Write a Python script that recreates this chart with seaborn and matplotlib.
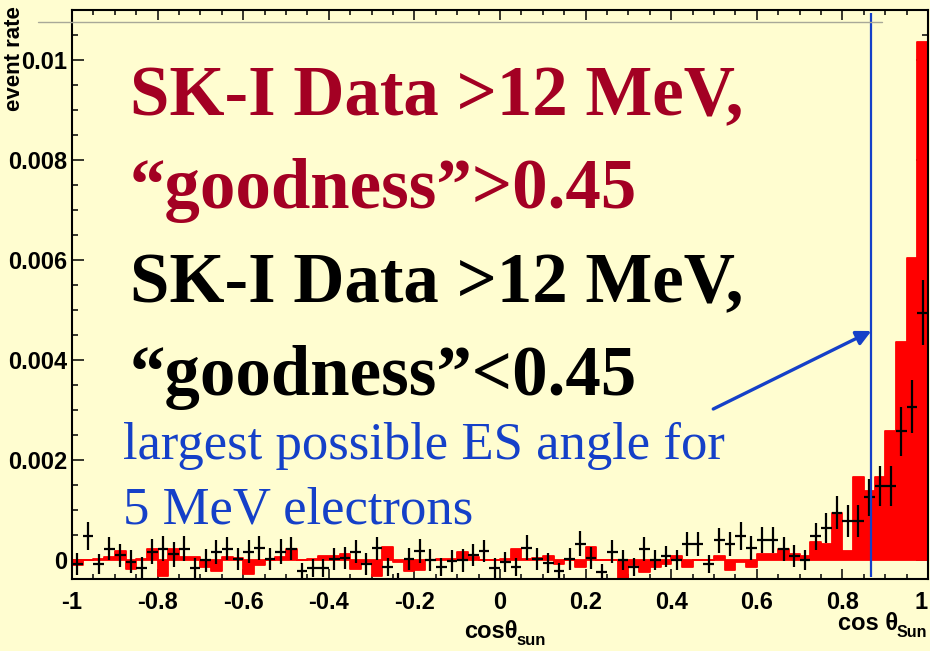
import numpy as np
import pandas as pd
import matplotlib
matplotlib.use("Agg")
import matplotlib.pyplot as plt
import seaborn as sns
from matplotlib.lines import Line2D
from matplotlib.ticker import MultipleLocator

# ---------------- data (80 bins of width 0.025 in cos theta_sun) ----------------
x_min, x_max, n_bins = -1.0, 1.0, 80
red_rate = [
    -0.0001, 0.0, 0.00002, 0.00007, 0.00018, -0.00018, 0.00003, 0.00023,
    -0.00032, 0.00023, 0.00007, 0.00007, -0.00013, -0.00022, 0.00007, 0.00005,
    -0.00027, -0.0001, 0.0, 0.00007, 0.00023, 0.0, 0.00003, 0.00008,
    0.00008, 0.00013, -0.00017, -0.00003, -0.00032, 0.00027, -0.00003, -0.00022,
    -0.0002, 0.0, 0.00003, 0.00003, 0.00017, 0.00007, 0.0, 0.0,
    0.00003, 0.00023, 0.00003, 0.00005, 0.00008, -0.00007, 0.0, -0.00013,
    0.00027, 0.0, 0.0, -0.00037, -0.0001, -0.00023, -0.00013, -0.00008,
    0.00008, -0.00013, 0.0, 0.0, 0.00008, -0.00019, -0.00003, -0.00013,
    0.00013, 0.00013, 0.00023, 0.00012, 0.00008, 0.00037, 0.00032, 0.00095,
    0.00018, 0.00167, 0.00139, 0.00167, 0.00258, 0.00437, 0.00605, 0.01037,
]
black_rate = [
    -0.00007, 0.00049, -0.00007, 0.00023, 0.0001, -0.00003, -0.00015, 0.00017,
    0.00023, 0.00012, 0.00023, -0.00015, 0.0, 0.00017, 0.00023, 0.00002,
    0.00017, 0.00025, 0.00002, 0.00017, 0.00023, -0.00022, -0.00015, -0.00015,
    0.00003, 0.00005, 0.00017, -0.00008, 0.00024, -0.00014, -0.00045, 0.00002,
    0.00018, 0.00001, -0.00014, -0.00001, 0.0, 0.0001, 0.00019, -0.00015,
    -0.00003, -0.00014, 0.00025, 0.00002, -0.00005, -0.00022, 0.00002, 0.00033,
    0.00004, -0.00023, 0.00017, 0.0, -0.00013, 0.00023, 0.00001, 0.00008,
    0.00001, 0.00033, 0.00033, -0.00007, 0.0004, 0.00033, 0.00048, 0.00025,
    0.0004, 0.0004, 0.00023, 0.00008, 0.0, 0.00048, 0.00065, 0.00095,
    0.00079, 0.00079, 0.00126, 0.00149, 0.00149, 0.00258, 0.00307, 0.00495,
]
black_err = [
    0.00022, 0.00028, 0.0002, 0.00023, 0.00023, 0.00023, 0.00022, 0.00025,
    0.00025, 0.00025, 0.00025, 0.0002, 0.00023, 0.00024, 0.00023, 0.00022,
    0.00023, 0.00024, 0.00022, 0.00025, 0.00023, 0.00016, 0.00018, 0.00018,
    0.00022, 0.00022, 0.00023, 0.00022, 0.00023, 0.00018, 0.0002, 0.00022,
    0.00024, 0.00022, 0.00018, 0.00022, 0.00023, 0.00022, 0.00022, 0.0002,
    0.0002, 0.00018, 0.00025, 0.00022, 0.0002, 0.00017, 0.00022, 0.00025,
    0.00022, 0.00016, 0.00023, 0.0002, 0.00018, 0.00024, 0.0002, 0.00021,
    0.0002, 0.00024, 0.00024, 0.00018, 0.00025, 0.00024, 0.00028, 0.00024,
    0.00026, 0.00026, 0.00024, 0.00022, 0.0002, 0.00027, 0.0003, 0.00033,
    0.00032, 0.00032, 0.00037, 0.0004, 0.0004, 0.00049, 0.00053, 0.00065,
]
es_angle_cos = 0.8677

x_ticks = [-1.0, -0.8, -0.6, -0.4, -0.2, 0.0, 0.2, 0.4, 0.6, 0.8, 1.0]
x_tick_labels = ["-1", "-0.8", "-0.6", "-0.4", "-0.2", "0", "0.2", "0.4", "0.6", "0.8", "1"]
y_ticks = [0.0, 0.002, 0.004, 0.006, 0.008, 0.01]
y_tick_labels = ["0", "0.002", "0.004", "0.006", "0.008", "0.01"]

text_red_lines = ["SK-I Data >12 MeV,", "\u201cgoodness\u201d>0.45"]
text_black_lines = ["SK-I Data >12 MeV,", "\u201cgoodness\u201d<0.45"]
text_blue_lines = ["largest possible ES angle for", "5 MeV electrons"]

# ---------------- style ----------------
BG = "#FFFDD0"
RED = "#FF0000"
DARKRED = "#A30023"
BLUE = "#1540C8"

sns.set_theme(style="ticks")
plt.rcParams["font.family"] = ["Liberation Sans", "DejaVu Sans"]
plt.rcParams["axes.unicode_minus"] = False

W, H = 930, 651
fig = plt.figure(figsize=(W / 100, H / 100), dpi=100, facecolor=BG)
L, R, T, B = 72, 928, 10, 579
ax = fig.add_axes([L / W, 1 - B / H, (R - L) / W, (B - T) / H])
ax.set_facecolor(BG)

bin_w = (x_max - x_min) / n_bins
centers = [x_min + (i + 0.5) * bin_w for i in range(n_bins)]
df = pd.DataFrame({"cos": centers, "red": red_rate, "black": black_rate, "err": black_err})

sns.histplot(data=df, x="cos", weights="red", bins=n_bins, binrange=(x_min, x_max),
             element="step", fill=True, color=RED, alpha=1.0, linewidth=1.3,
             edgecolor=RED, ax=ax, zorder=2)

ax.errorbar(df["cos"], df["black"], xerr=bin_w / 2, yerr=df["err"], fmt="none",
            ecolor="black", elinewidth=1.6, capsize=0, zorder=3)

y_lo, y_hi = -0.00038, 0.011
ax.set_xlim(x_min, x_max)
ax.set_ylim(y_lo, y_hi)
ax.set_xlabel("")
ax.set_ylabel("")

# blue vertical line and arrow
def py2v(py):
    return (560 - py) * 0.00002

ax.vlines(es_angle_cos, py2v(577), py2v(13), color=BLUE, lw=1.6, zorder=4)
ax.annotate("", xy=(es_angle_cos, py2v(331)), xytext=(0.4983, py2v(409)),
            arrowprops=dict(arrowstyle="-|>", color=BLUE, lw=2.4, mutation_scale=22,
                            shrinkA=0, shrinkB=0), zorder=5)

# ticks
ax.set_xticks(x_ticks)
ax.set_xticklabels(x_tick_labels)
ax.set_yticks(y_ticks)
ax.set_yticklabels(y_tick_labels)
ax.xaxis.set_minor_locator(MultipleLocator(0.05))
ax.yaxis.set_minor_locator(MultipleLocator(0.0005))

ax.tick_params(which="both", direction="in", top=True, right=True, width=1.1, color="black")
ax.tick_params(axis="x", which="major", length=7.2, pad=8.5)
ax.tick_params(axis="x", which="minor", length=3.6)
ax.tick_params(axis="y", which="major", length=8.6, pad=3.6)
ax.tick_params(axis="y", which="minor", length=4.3)
for lab in ax.get_xticklabels() + ax.get_yticklabels():
    lab.set_fontsize(17)
    lab.set_fontweight("bold")
    lab.set_color("black")
last = ax.get_xticklabels()[-1]
last.set_horizontalalignment("right")
for s in ax.spines.values():
    s.set_linewidth(1.5)
    s.set_color("black")

# gray frame line near top
fig.add_artist(Line2D([38 / W, 882 / W], [1 - 22 / H, 1 - 22 / H], color="#A8A898", lw=1.0, zorder=1))

# axis titles
fig.text(15 / W, 1 - 6 / H, "event rate", rotation=90, ha="center", va="top",
         fontsize=16, fontweight="bold", color="black")
fig.text(464 / W, 1 - 638 / H, "cos\u03b8", ha="left", va="baseline",
         fontsize=17, fontweight="bold", color="black")
fig.text(516 / W, 1 - 645 / H, "sun", ha="left", va="baseline",
         fontsize=12, fontweight="bold", color="black")
fig.text(838 / W, 1 - 630 / H, "cos \u03b8", ha="left", va="baseline",
         fontsize=17, fontweight="bold", color="black")
fig.text(897 / W, 1 - 637 / H, "Sun", ha="left", va="baseline",
         fontsize=11.5, fontweight="bold", color="black")

# big annotations
serif = ["Liberation Serif", "DejaVu Serif"]
for txt, yb in zip(text_red_lines, [115, 208]):
    fig.text(130 / W, 1 - yb / H, txt, ha="left", va="baseline", fontsize=51,
             fontweight="bold", color=DARKRED, family=serif)
for txt, yb in zip(text_black_lines, [302, 395]):
    fig.text(130 / W, 1 - yb / H, txt, ha="left", va="baseline", fontsize=51,
             fontweight="bold", color="black", family=serif)
for txt, yb in zip(text_blue_lines, [459, 524]):
    fig.text(123 / W, 1 - yb / H, txt, ha="left", va="baseline", fontsize=38,
             color=BLUE, family=serif)

fig.savefig("out.png", dpi=100, facecolor=BG)
